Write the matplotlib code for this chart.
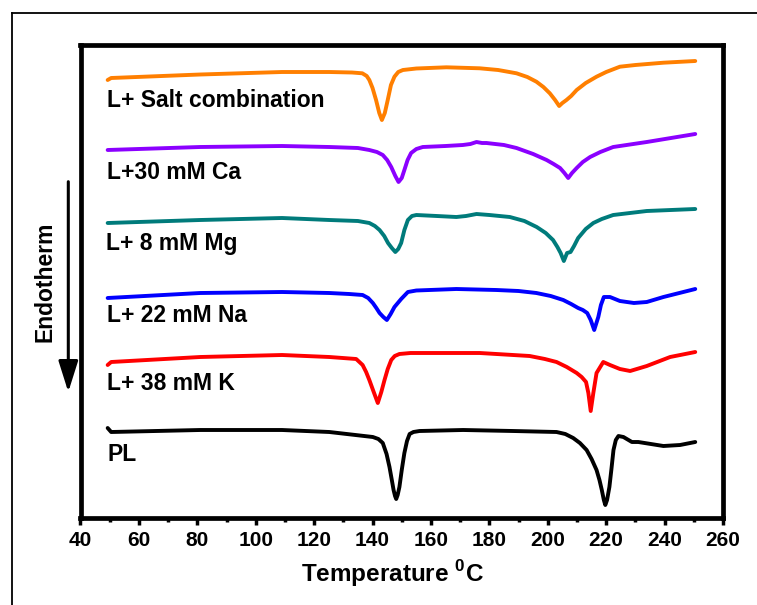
import matplotlib
matplotlib.use('Agg')
import matplotlib.pyplot as plt
from matplotlib.lines import Line2D
from matplotlib.patches import FancyArrowPatch

plt.rcParams['font.family'] = ['Liberation Sans', 'DejaVu Sans']
plt.rcParams['font.weight'] = 'bold'
plt.rcParams['mathtext.fontset'] = 'custom'
plt.rcParams['mathtext.rm'] = 'Liberation Sans:bold'
plt.rcParams['mathtext.bf'] = 'Liberation Sans:bold'

# DSC traces: temperature (deg C) and heat flow (a.u., offset)
t_salt = [49.3, 50.5, 81, 109, 125.2, 133, 136.5, 138.0, 138.9, 140.0, 141.2, 142.3, 143.2, 144.2,
          145.2, 146.3, 147.5, 148.8, 150.4, 155, 165.3, 176.7, 183, 189.3, 193, 196.1, 198.5, 200.7,
          202.5, 203.9, 205, 206.4, 208, 209.9, 213, 216.7, 220, 224.7, 230, 239.6, 250.5]
hf_salt = [43.8, 44.0, 44.35, 44.6, 44.6, 44.55, 44.47, 44.2, 43.8, 43.0, 41.8, 40.5, 39.8, 40.5,
           41.8, 43.3, 44.13, 44.6, 44.8, 44.95, 45.07, 44.97, 44.8, 44.47, 44.1, 43.63, 43.1, 42.47,
           41.8, 41.2, 41.5, 41.8, 42.2, 42.8, 43.5, 44.13, 44.6, 45.13, 45.3, 45.53, 45.7]

t_ca = [49.3, 81, 109, 125.2, 135, 138.9, 141.5, 143.5, 145, 146.4, 147.8, 148.9, 150, 150.9,
        152, 153.2, 155, 157.2, 165, 170.9, 173.5, 175.6, 177.5, 179.0, 185, 189.3, 195, 199.6, 202,
        204.2, 205.7, 207.0, 208.3, 209.9, 212, 214.5, 218, 222.4, 233.9, 250.5]
hf_ca = [36.8, 37.1, 37.2, 37.1, 37.0, 36.8, 36.6, 36.3, 35.8, 35.1, 34.2, 33.6, 34.0, 34.8,
         35.8, 36.5, 36.9, 37.1, 37.2, 37.3, 37.4, 37.6, 37.5, 37.5, 37.3, 37.0, 36.4, 35.8, 35.4,
         35.0, 34.5, 34.0, 34.5, 35.0, 35.6, 36.1, 36.6, 37.1, 37.6, 38.4]

t_mg = [49.3, 81, 109, 125.2, 135, 138.9, 140.8, 142.4, 144, 145.3, 146.6, 147.8, 148.8, 149.8,
        150.9, 152.1, 153.5, 155.0, 162, 168.7, 172, 175.6, 180, 187.0, 192, 196.2, 199.3, 201.8, 203.3,
        204.4, 205.5, 206.6, 207.8, 209, 210.4, 213, 215.6, 218.5, 222.4, 233.9, 250.5]
hf_mg = [29.5, 29.8, 30.0, 29.8, 29.7, 29.5, 29.2, 28.8, 28.2, 27.5, 27.0, 26.6, 26.9, 27.5,
         28.8, 29.8, 30.2, 30.3, 30.2, 30.1, 30.2, 30.4, 30.3, 30.1, 29.7, 29.1, 28.5, 27.8, 27.1,
         26.5, 25.7, 26.5, 26.6, 27.2, 28.0, 28.9, 29.5, 29.9, 30.3, 30.7, 30.9]

t_na = [49.3, 81, 109, 125.2, 132, 136.6, 138.5, 140.1, 141.3, 142.4, 143.7, 144.9, 146.2, 147.5,
        149.8, 152.1, 155, 159.5, 168.7, 182.4, 190, 196.1, 201, 205.3, 208, 210.4, 212, 213.5, 214.7,
        215.9, 217.3, 218.2, 219.2, 221.3, 224.7, 229.5, 233.9, 239.6, 250.5]
hf_na = [22.0, 22.5, 22.6, 22.5, 22.4, 22.3, 22.0, 21.5, 21.0, 20.5, 20.1, 19.8, 20.4, 21.1,
         21.9, 22.6, 22.75, 22.8, 22.9, 22.8, 22.7, 22.5, 22.2, 21.8, 21.4, 21.0, 20.8, 20.5, 19.8,
         18.8, 20.1, 21.3, 22.1, 22.1, 21.7, 21.5, 21.6, 22.1, 22.9]

t_k = [49.3, 50.5, 81, 109, 125.2, 134.4, 136.6, 137.8, 138.9, 140.4, 141.8, 143.0, 144.1, 145.2,
       146.4, 147.6, 149.2, 153, 159.5, 176.7, 193.8, 199, 203.0, 206.5, 209.9, 211.6, 213.1, 213.9, 214.7,
       215.6, 216.7, 219.0, 221.3, 224.7, 228.2, 233.9, 241.9, 250.5]
hf_k = [15.3, 15.6, 16.1, 16.3, 16.1, 15.9, 15.3, 14.6, 13.8, 12.6, 11.5, 12.6, 13.8, 14.9,
        15.8, 16.2, 16.4, 16.5, 16.5, 16.5, 16.2, 15.9, 15.6, 15.1, 14.5, 14.1, 13.6, 12.5, 10.7,
        12.5, 14.5, 15.6, 15.3, 14.9, 14.7, 15.2, 16.1, 16.6]

t_pl = [49.3, 50.5, 81, 109, 125.2, 140.1, 142, 143.5, 144.8, 145.8, 146.6, 147.2, 147.7, 148.1,
        148.6, 149.2, 150.0, 150.9, 151.8, 152.7, 154, 156.1, 171.0, 188.1, 203.0, 206, 208.7, 211, 213.3,
        215, 216.7, 217.7, 218.5, 219.2, 219.7, 220.3, 221.1, 221.8, 222.5, 223.3, 224.2, 225.9, 228.8,
        231.0, 239.6, 245.3, 250.5]
hf_pl = [9.0, 8.6, 8.8, 8.8, 8.6, 8.1, 7.9, 7.5, 6.4, 5.1, 3.8, 2.8, 2.2, 1.9,
         2.3, 3.1, 4.8, 6.5, 7.7, 8.4, 8.6, 8.7, 8.8, 8.7, 8.6, 8.4, 8.0, 7.5, 6.8,
         5.9, 4.8, 3.8, 2.8, 1.8, 1.3, 1.8, 3.1, 4.9, 6.8, 7.8, 8.2, 8.1, 7.6,
         7.6, 7.2, 7.3, 7.6]

labels = ['L+ Salt combination', 'L+30 mM Ca', 'L+ 8 mM Mg', 'L+ 22 mM Na', 'L+ 38 mM K', 'PL']
label_x = [49.2, 49.2, 48.6, 49.2, 49.2, 49.2]
label_y = [41.1, 33.9, 26.8, 19.6, 12.8, 5.7]
colors = ['#ff7f00', '#8b00ff', '#007b7b', '#0000ff', '#ff0000', '#000000']

temps = [t_salt, t_ca, t_mg, t_na, t_k, t_pl]
flows = [hf_salt, hf_ca, hf_mg, hf_na, hf_k, hf_pl]

W, H = 757, 605
fig = plt.figure(figsize=(W / 100, H / 100), dpi=100)
ax = fig.add_axes([80.5 / W, (H - 518) / H, (723 - 80.5) / W, (518 - 45) / H])

for t, f, c in zip(temps, flows, colors):
    ax.plot(t, f, color=c, lw=2.8, solid_joinstyle='round', solid_capstyle='round')

for lab, x, y in zip(labels, label_x, label_y):
    ax.text(x, y, lab, fontsize=16.5, fontweight='bold', ha='left', va='baseline')

ax.set_xlim(40, 260)
ax.set_ylim(0, 47.3)
ax.set_xticks(range(40, 261, 20))
ax.set_xticks(range(50, 260, 20), minor=True)
ax.set_yticks([])
ax.tick_params(axis='x', which='major', direction='out', length=5, width=2.5,
               labelsize=15, pad=4)
ax.tick_params(axis='x', which='minor', direction='out', length=3, width=2.5)
for lbl in ax.get_xticklabels():
    lbl.set_fontweight('bold')
for sp in ax.spines.values():
    sp.set_linewidth(3.4)

ax.set_xlabel(r'Temperature $^{\mathbf{0}}$C', fontsize=17.5, fontweight='bold')
ax.xaxis.set_label_coords((392 - 80.5) / (723 - 80.5), -0.085)

# Endotherm arrow and text
arrow = FancyArrowPatch((68.3 / W, (H - 181.7) / H), (68.3 / W, (H - 392) / H),
                        transform=fig.transFigure, arrowstyle='-|>,head_width=0.3,head_length=0.95',
                        mutation_scale=20, lw=2.2, color='k', shrinkA=0, shrinkB=0)
fig.add_artist(arrow)
fig.text(45 / W, (H - 282) / H, 'Endotherm', rotation=90, fontsize=16.5, fontweight='bold',
         ha='center', va='center')

# outer frame of the figure panel
fig.add_artist(Line2D([12 / W, 12 / W], [0, (H - 13) / H], transform=fig.transFigure, color='k', lw=1.3))
fig.add_artist(Line2D([12 / W, 1], [(H - 13) / H, (H - 13) / H], transform=fig.transFigure, color='k', lw=1.3))

fig.savefig('out.png', dpi=100)
